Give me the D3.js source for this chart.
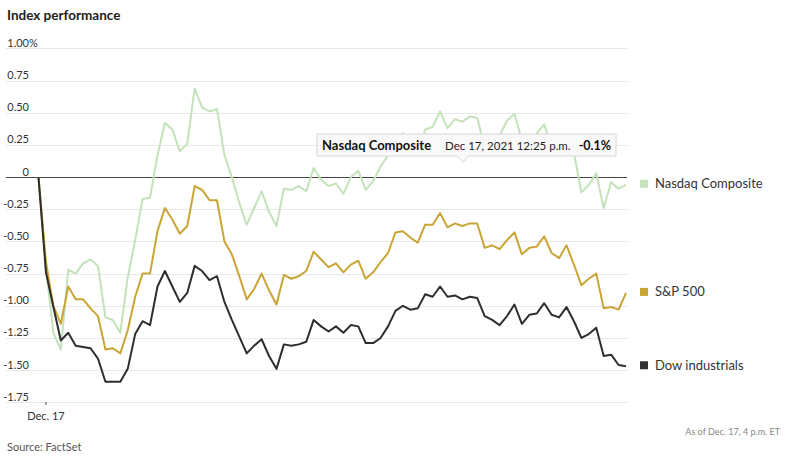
<!DOCTYPE html>
<html>
<head>
<meta charset="utf-8">
<script src="https://cdn.jsdelivr.net/npm/d3@7"></script>
<style>
  body { margin: 0; background: #fff; }
  svg { display: block; font-family: Lato, "Noto Sans", sans-serif; }
  .grid { stroke: #e8e8e8; stroke-width: 1; }
  .zero { stroke: #444; stroke-width: 1; }
  .tick-label { font-size: 11px; fill: #333; }
  .series { fill: none; stroke-width: 2; stroke-linejoin: round; }
  .legend-label { font-size: 13px; fill: #333; }
</style>
</head>
<body>
<svg id="chart" width="800" height="457"></svg>
<script>
// 5-minute readings, % change from prior close
const nasdaq = [
  0, -0.70, -1.21, -1.34, -0.72, -0.75, -0.67, -0.64, -0.69, -1.09,
  -1.11, -1.21, -0.78, -0.49, -0.17, -0.16, 0.17, 0.42, 0.37, 0.20,
  0.26, 0.69, 0.54, 0.51, 0.53, 0.17, 0.00, -0.20, -0.37, -0.24,
  -0.11, -0.27, -0.38, -0.09, -0.10, -0.07, -0.11, 0.07, -0.02, -0.07,
  -0.05, -0.13, 0.00, 0.05, -0.10, -0.03, 0.08, 0.17, 0.26, 0.34,
  0.27, 0.18, 0.37, 0.39, 0.51, 0.38, 0.45, 0.43, 0.47, 0.46,
  0.23, 0.21, 0.32, 0.44, 0.49, 0.29, 0.27, 0.34, 0.41, 0.23,
  0.25, 0.31, 0.19, -0.12, -0.06, 0.03, -0.24, -0.04, -0.09, -0.06
];
const sp500 = [
  0, -0.66, -1.00, -1.14, -0.85, -0.95, -0.95, -1.02, -1.08, -1.34,
  -1.33, -1.37, -1.19, -0.93, -0.75, -0.75, -0.42, -0.24, -0.33, -0.44,
  -0.38, -0.07, -0.10, -0.18, -0.18, -0.50, -0.60, -0.77, -0.95, -0.87,
  -0.75, -0.88, -0.99, -0.76, -0.79, -0.77, -0.73, -0.58, -0.64, -0.70,
  -0.67, -0.74, -0.68, -0.65, -0.79, -0.74, -0.66, -0.59, -0.43, -0.42,
  -0.47, -0.51, -0.37, -0.37, -0.28, -0.39, -0.36, -0.38, -0.36, -0.36,
  -0.55, -0.53, -0.56, -0.49, -0.43, -0.60, -0.55, -0.54, -0.46, -0.59,
  -0.63, -0.53, -0.68, -0.84, -0.79, -0.75, -1.02, -1.01, -1.03, -0.90
];
const dow = [
  0, -0.74, -1.01, -1.27, -1.21, -1.31, -1.32, -1.33, -1.41, -1.59,
  -1.59, -1.59, -1.49, -1.22, -1.12, -1.15, -0.85, -0.73, -0.85, -0.97,
  -0.90, -0.69, -0.73, -0.80, -0.77, -0.97, -1.11, -1.24, -1.37, -1.31,
  -1.26, -1.39, -1.49, -1.30, -1.31, -1.30, -1.28, -1.11, -1.16, -1.20,
  -1.16, -1.21, -1.15, -1.16, -1.29, -1.29, -1.25, -1.16, -1.04, -1.00,
  -1.03, -1.02, -0.91, -0.93, -0.85, -0.93, -0.92, -0.95, -0.93, -0.94,
  -1.08, -1.11, -1.15, -1.08, -0.99, -1.14, -1.07, -1.06, -0.98, -1.07,
  -1.09, -1.01, -1.12, -1.25, -1.22, -1.17, -1.39, -1.38, -1.46, -1.47
];

const yTicks = [1.0, 0.75, 0.5, 0.25, 0, -0.25, -0.5, -0.75, -1.0, -1.25, -1.5, -1.75];
const yTickLabels = ["1.00", "0.75", "0.50", "0.25", "0", "-0.25", "-0.50", "-0.75", "-1.00", "-1.25", "-1.50", "-1.75"];
const xTicks = [1];
const xTickLabels = ["Dec. 17"];

const seriesList = [
  { name: "Nasdaq Composite", values: nasdaq, color: "#c4e2ba", legend: "#c6e3bd" },
  { name: "S&P 500", values: sp500, color: "#c9a535", legend: "#c9a535" },
  { name: "Dow industrials", values: dow, color: "#2e2e2e", legend: "#333" }
];

const tooltipInfo = { name: "Nasdaq Composite", time: "Dec 17, 2021 12:25 p.m.", value: "-0.1%" };

const svg = d3.select("#chart");
const left = 6;
const right = 627;

const x = d3.scaleLinear().domain([0, nasdaq.length - 1]).range([38.5, 626]);
const y = d3.scaleLinear().domain([-1.75, 1.0]).range([402.3, 48.4]);

svg.append("text")
  .attr("x", 7).attr("y", 20)
  .attr("font-size", 13.5).attr("font-weight", 700).attr("fill", "#222")
  .text("Index performance");

// grid + y labels
const gGrid = svg.append("g");
yTicks.forEach((t, i) => {
  gGrid.append("line")
    .attr("class", t === 0 ? "zero" : "grid")
    .attr("x1", left).attr("x2", right)
    .attr("y1", Math.round(y(t)) + 0.5).attr("y2", Math.round(y(t)) + 0.5);
  gGrid.append("text")
    .attr("class", "tick-label")
    .attr("x", 29).attr("y", y(t) - 1.5)
    .attr("text-anchor", "end")
    .text(yTickLabels[i]);
  if (i === 0) {
    gGrid.append("text")
      .attr("class", "tick-label")
      .attr("x", 29).attr("y", y(t) - 1.5)
      .text("%");
  }
});

// x tick
xTicks.forEach((t, i) => {
  svg.append("line")
    .attr("x1", x(t)).attr("x2", x(t))
    .attr("y1", y(-1.75)).attr("y2", y(-1.75) + 2.5)
    .attr("stroke", "#333").attr("stroke-width", 1);
  svg.append("text")
    .attr("class", "tick-label")
    .attr("x", x(t)).attr("y", 420)
    .attr("text-anchor", "middle")
    .text(xTickLabels[i]);
});

const line = d3.line()
  .x((d, i) => x(i))
  .y((d) => y(d));

svg.append("g")
  .selectAll("path")
  .data(seriesList)
  .join("path")
  .attr("class", "series")
  .attr("stroke", (d) => d.color)
  .attr("d", (d) => line(d.values));

// legend at each line's last value
const gLegend = svg.append("g");
seriesList.forEach((s) => {
  const ly = y(s.values[s.values.length - 1]) - 1;
  gLegend.append("rect")
    .attr("x", 640).attr("y", ly - 4)
    .attr("width", 8).attr("height", 8)
    .attr("fill", s.legend);
  gLegend.append("text")
    .attr("class", "legend-label")
    .attr("x", 655).attr("y", ly + 4.5)
    .text(s.name);
});

// hover tooltip (static)
const tip = svg.append("g");
const tipX = 317, tipY = 134, tipW = 299, tipH = 22, tipPointer = 463;
tip.append("path")
  .attr("d", `M${tipX},${tipY} H${tipX + tipW} V${tipY + tipH} H${tipPointer + 6} L${tipPointer},${tipY + tipH + 6} L${tipPointer - 6},${tipY + tipH} H${tipX} Z`)
  .attr("fill", "#f9f9f9")
  .attr("stroke", "#d6d6d6");
tip.append("text")
  .attr("x", 322).attr("y", 150)
  .attr("font-size", 13).attr("font-weight", 700).attr("fill", "#111")
  .text(tooltipInfo.name);
tip.append("text")
  .attr("x", 445).attr("y", 150)
  .attr("font-size", 11.5).attr("fill", "#222")
  .text(tooltipInfo.time);
tip.append("text")
  .attr("x", 611).attr("y", 150)
  .attr("text-anchor", "end")
  .attr("font-size", 12.5).attr("font-weight", 700).attr("fill", "#111")
  .text(tooltipInfo.value);

svg.append("text")
  .attr("x", 7).attr("y", 451)
  .attr("font-size", 11).attr("fill", "#555")
  .text("Source: FactSet");

svg.append("text")
  .attr("x", 780).attr("y", 435)
  .attr("text-anchor", "end")
  .attr("font-size", 9).attr("fill", "#888")
  .text("As of Dec. 17, 4 p.m. ET");
</script>
</body>
</html>
